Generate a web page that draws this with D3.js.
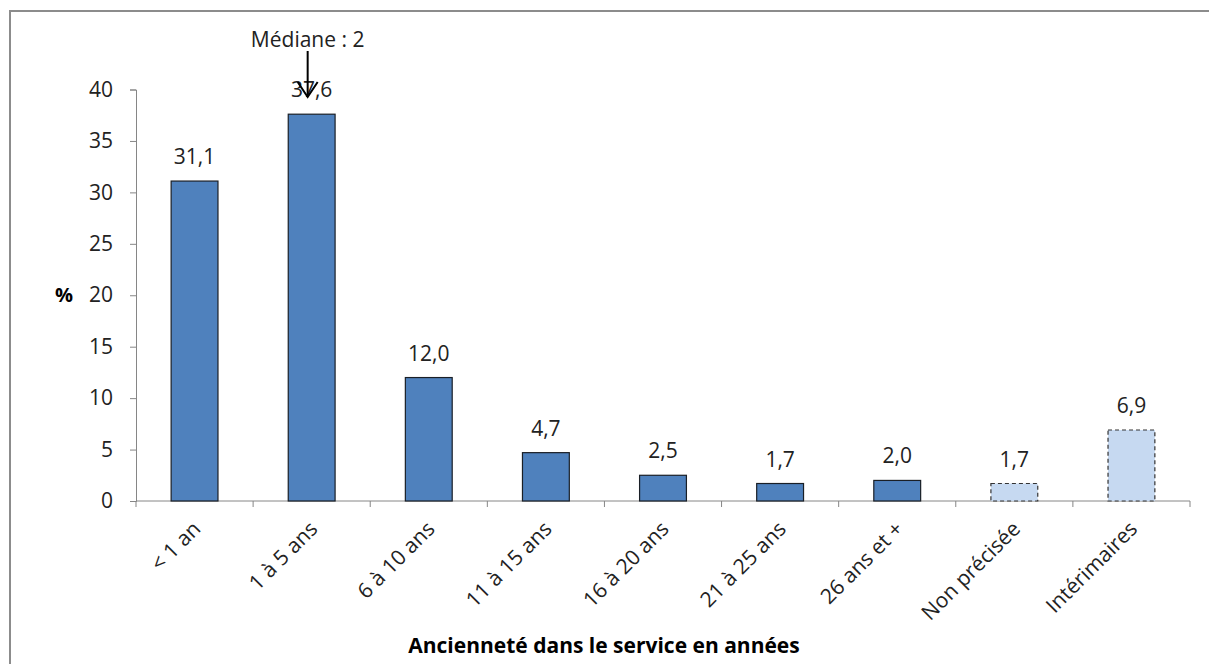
<!DOCTYPE html>
<html lang="fr">
<head>
  <meta charset="UTF-8">
  <title>Ancienneté dans le service</title>
  <style>
  body { margin: 0; background: #fff; }
  svg { display: block; font-family: "Open Sans", "Noto Sans", sans-serif; }
  </style>
</head>
<body>
  <div id="chart"></div>
  <script src="https://cdn.jsdelivr.net/npm/d3@7/dist/d3.min.js"></script>
  <script>
    const categories = ['< 1 an', '1 à 5 ans', '6 à 10 ans', '11 à 15 ans', '16 à 20 ans',
      '21 à 25 ans', '26 ans et +', 'Non précisée', 'Intérimaires'];
    const values = [31.1, 37.6, 12.0, 4.7, 2.5, 1.7, 2.0, 1.7, 6.9];
    const lightCats = ['Non précisée', 'Intérimaires'];
    const yTicks = [0, 5, 10, 15, 20, 25, 30, 35, 40];
    const medianLabel = 'Médiane : 2';

    const W = 1209, H = 664;
    const FONT = '"Open Sans", "Noto Sans", sans-serif';
    const FS = 21;
    const svg = d3.select('#chart').append('svg')
      .attr('width', W).attr('height', H);

    // frame (only top and left visible)
    svg.append('path')
      .attr('d', `M10,${H} V11 H${W}`)
      .attr('fill', 'none')
      .attr('stroke', '#8c8c8c')
      .attr('stroke-width', 2);

    const x = d3.scaleBand().domain(categories).range([136, 1190]).paddingInner(0.6).paddingOuter(0.3);
    const y = d3.scaleLinear().domain([0, 40]).range([501, 89.5]);

    // y axis
    const yAxis = svg.append('g').attr('transform', 'translate(136,0)')
      .call(d3.axisLeft(y).tickValues(yTicks).tickSize(6).tickPadding(17));
    yAxis.select('.domain').attr('stroke', '#868686');
    yAxis.selectAll('.tick line').attr('stroke', '#868686');
    yAxis.selectAll('.tick text').attr('font-size', FS).attr('fill', '#222')
      .attr('font-family', FONT);

    // x axis
    const xAxis = svg.append('g').attr('transform', 'translate(0,501)')
      .call(d3.axisBottom(x).tickSize(0).tickFormat(''));
    xAxis.select('.domain').attr('stroke', '#868686').attr('d', 'M136,0H1190');
    const step = x.step();
    const edges = d3.range(categories.length + 1).map(i => x.range()[0] + i * step);
    xAxis.selectAll('.sep').data(edges).enter().append('line')
      .attr('x1', d => d).attr('x2', d => d).attr('y1', 0).attr('y2', 6)
      .attr('stroke', '#868686');

    // category labels rotated
    svg.append('g').selectAll('text').data(categories).enter().append('text')
      .attr('transform', d => `translate(${x(d) + x.bandwidth() / 2 + 2},525) rotate(-45)`)
      .attr('text-anchor', 'end')
      .attr('dy', '0.35em')
      .attr('font-size', FS)
      .attr('fill', '#222')
      .text(d => d);

    // bars
    svg.append('g').selectAll('rect').data(categories).enter().append('rect')
      .attr('x', d => x(d))
      .attr('width', x.bandwidth())
      .attr('y', (d, i) => y(values[i]))
      .attr('height', (d, i) => y(0) - y(values[i]))
      .attr('fill', d => lightCats.includes(d) ? '#c6d9f1' : '#4f81bd')
      .attr('stroke', d => lightCats.includes(d) ? '#333' : '#1a1f26')
      .attr('stroke-width', 1.2)
      .attr('stroke-dasharray', d => lightCats.includes(d) ? '4,3' : null);

    // value labels
    svg.append('g').selectAll('text').data(categories).enter().append('text')
      .attr('x', d => x(d) + x.bandwidth() / 2)
      .attr('y', (d, i) => y(values[i]) - 17)
      .attr('text-anchor', 'middle')
      .attr('font-size', FS)
      .attr('fill', '#222')
      .text((d, i) => d3.format('.1f')(values[i]).replace('.', ','));

    // % label
    svg.append('text')
      .attr('x', 64).attr('y', y(20)).attr('dy', '0.35em')
      .attr('text-anchor', 'middle')
      .attr('font-size', FS - 1).attr('font-weight', 'bold')
      .text('%');

    // x title
    svg.append('text')
      .attr('x', 604).attr('y', 653)
      .attr('text-anchor', 'middle')
      .attr('font-size', FS).attr('font-weight', 'bold')
      .text('Ancienneté dans le service en années');

    // median annotation
    const mx = x(categories[1]) + x.bandwidth() / 2 - 4;
    svg.append('text')
      .attr('x', mx).attr('y', 47)
      .attr('text-anchor', 'middle')
      .attr('font-size', FS).attr('fill', '#222')
      .text(medianLabel);
    svg.append('line')
      .attr('x1', mx).attr('x2', mx).attr('y1', 51).attr('y2', 97)
      .attr('stroke', '#000').attr('stroke-width', 2);
    svg.append('path')
      .attr('d', `M${mx - 10},82 L${mx},97 L${mx + 10},82`)
      .attr('fill', 'none').attr('stroke', '#000').attr('stroke-width', 2);
  </script>
</body>
</html>
